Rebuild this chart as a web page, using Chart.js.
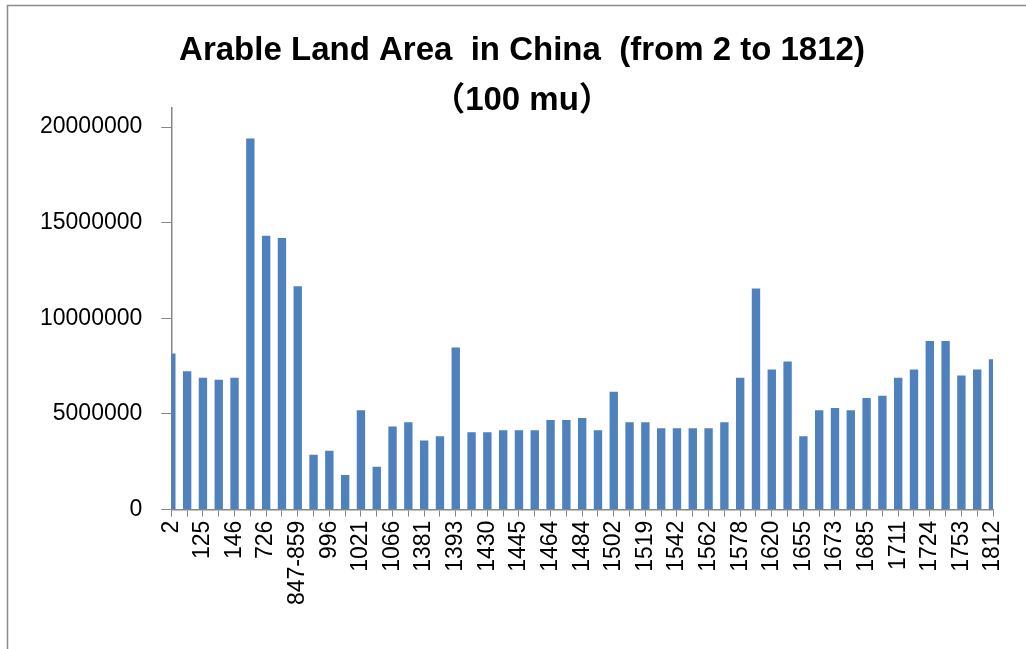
<!DOCTYPE html>
<html>
<head>
<meta charset="utf-8">
<title>Arable Land Area in China</title>
<script src="https://cdn.jsdelivr.net/npm/chart.js@4.4.1/dist/chart.umd.min.js"></script>
<style>
  html, body { margin: 0; padding: 0; background: #fff; }
  canvas { display: block; }
</style>
</head>
<body>
<canvas id="landChart" width="1026" height="649"></canvas>
<script>
// years (only every other one is labelled on the axis)
const years = [
  '2', '105', '125', '144', '146', '589', '726', '755', '847-859', '976',
  '996', '1006', '1021', '1051', '1066', '1083', '1381', '1391', '1393', '1402',
  '1430', '1436', '1445', '1457', '1464', '1474', '1484', '1491', '1502', '1505',
  '1519', '1522', '1542', '1552', '1562', '1572', '1578', '1602', '1620', '1626',
  '1655', '1661', '1673', '1678', '1685', '1700', '1711', '1722', '1724', '1734',
  '1753', '1766', '1812'
];

// arable land, unit = 100 mu
const landArea = [
  8160000, 7230000, 6900000, 6790000, 6900000, 19400000, 14320000, 14200000, 11680000, 2870000,
  3080000, 1810000, 5200000, 2240000, 4350000, 4570000, 3610000, 3830000, 8480000, 4040000,
  4040000, 4150000, 4150000, 4150000, 4680000, 4680000, 4790000, 4150000, 6160000, 4570000,
  4570000, 4250000, 4250000, 4250000, 4250000, 4570000, 6900000, 11560000, 7330000, 7750000,
  3830000, 5200000, 5310000, 5200000, 5840000, 5950000, 6900000, 7330000, 8810000, 8810000,
  7010000, 7330000, 7860000
];

const yTicks = [0, 5000000, 10000000, 15000000, 20000000];

const titleLines = ['Arable Land Area  in China  (from 2 to 1812)', '\uFF08100 mu\uFF09'];

const axisGray = '#868686';

// white page plus the cut-off frame seen round the original picture
const framePlugin = {
  id: 'frame',
  beforeDraw(chart) {
    const ctx = chart.ctx;
    ctx.save();
    ctx.fillStyle = '#fff';
    ctx.fillRect(0, 0, chart.width, chart.height);
    ctx.strokeStyle = '#8c8c8c';
    ctx.lineWidth = 1.5;
    ctx.beginPath();
    ctx.moveTo(7.5, chart.height);
    ctx.lineTo(7.5, 5.5);
    ctx.lineTo(chart.width, 5.5);
    ctx.stroke();
    ctx.restore();
  }
};

// the title sits a bit right of the page centre and overlaps the plot top
const titlePlugin = {
  id: 'twoLineTitle',
  afterDraw(chart) {
    const ctx = chart.ctx;
    ctx.save();
    ctx.fillStyle = '#000';
    ctx.textAlign = 'center';
    ctx.textBaseline = 'middle';
    ctx.font = "bold 33px 'Liberation Sans Narrow', 'Liberation Sans', 'Noto Sans CJK SC'";
    const cx = chart.width / 2 + 9;
    titleLines.forEach((line, i) => {
      ctx.fillText(line, cx, 51 + i * 50);
    });
    ctx.restore();
  }
};

const ctx = document.getElementById('landChart').getContext('2d');
new Chart(ctx, {
  type: 'bar',
  data: {
    labels: years,
    datasets: [{
      label: 'Arable land',
      data: landArea,
      backgroundColor: '#4f81bd',
      borderWidth: 0,
      categoryPercentage: 0.53,
      barPercentage: 1
    }]
  },
  options: {
    responsive: false,
    animation: false,
    layout: {
      padding: { left: 21, right: 33, top: 108, bottom: 40 }
    },
    plugins: {
      legend: { display: false },
      tooltip: { enabled: false },
      title: { display: false }
    },
    scales: {
      x: {
        offset: false,
        grid: {
          offset: false,
          drawOnChartArea: false,
          drawTicks: true,
          tickLength: 7,
          color: axisGray
        },
        border: { color: axisGray, width: 1.5 },
        ticks: {
          autoSkip: false,
          maxRotation: 90,
          minRotation: 90,
          padding: 4,
          color: '#000',
          font: { family: "'Liberation Sans', Arial, sans-serif", size: 23 },
          callback: function(value, index) {
            return index % 2 === 0 ? years[index] : '';
          }
        }
      },
      y: {
        min: 0,
        max: 21000000,
        afterBuildTicks: function(scale) {
          scale.ticks = yTicks.map(v => ({ value: v }));
        },
        grid: {
          drawOnChartArea: false,
          drawTicks: true,
          tickLength: 10,
          color: axisGray
        },
        border: { color: axisGray, width: 1.5 },
        ticks: {
          padding: 19,
          color: '#000',
          font: { family: "'Liberation Sans', Arial, sans-serif", size: 23 },
          callback: function(value) { return String(value); }
        }
      }
    }
  },
  plugins: [framePlugin, titlePlugin]
});
</script>
</body>
</html>
